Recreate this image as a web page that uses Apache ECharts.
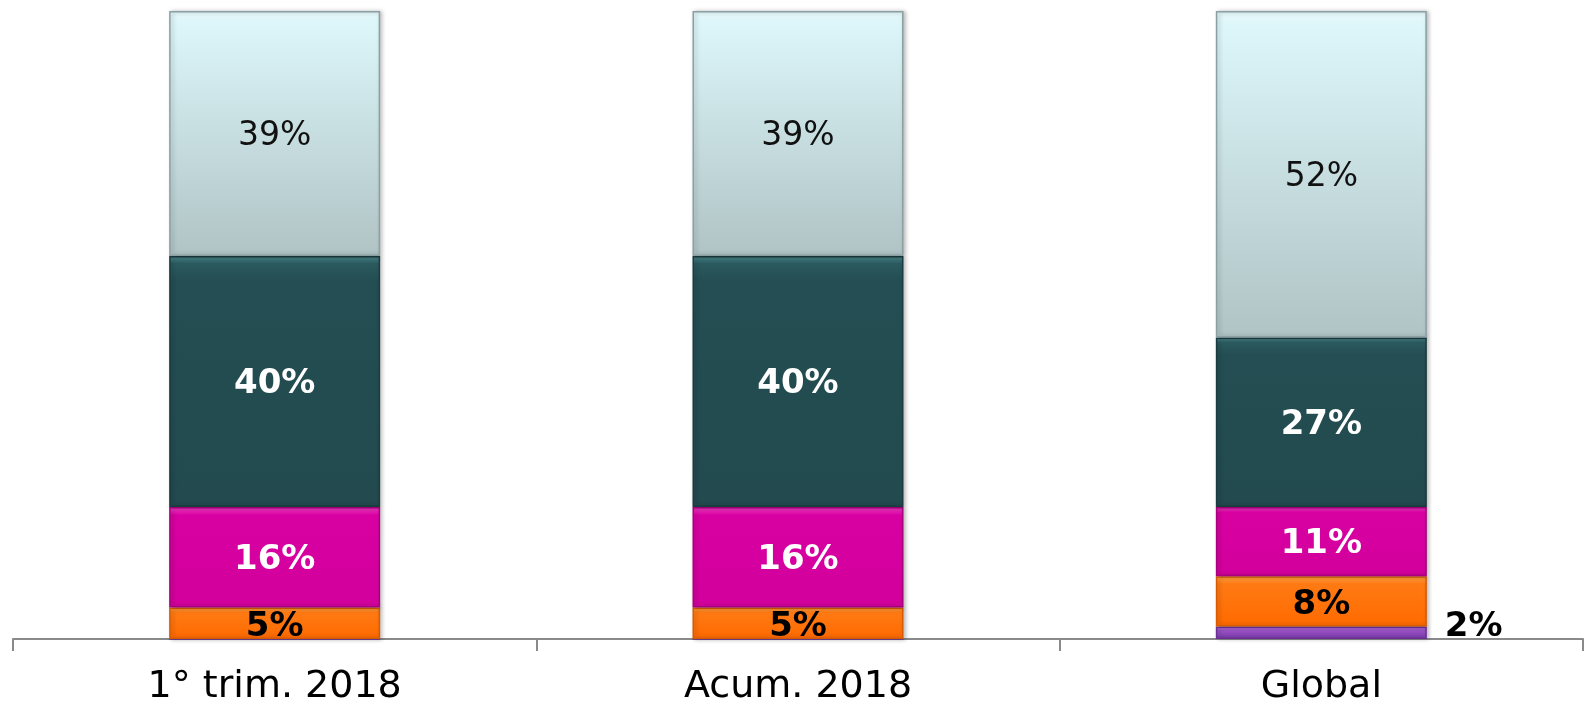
<!DOCTYPE html>
<html>
<head>
<meta charset="utf-8">
<script src="https://cdn.jsdelivr.net/npm/echarts@6/dist/echarts.min.js"></script>
<style>
html,body{margin:0;padding:0;background:#fff;}
#chart{width:1591px;height:706px;}
</style>
</head>
<body>
<div id="chart"></div>
<script>
// Categories and stacked shares (percent), bottom segment first
const categories = ['1° trim. 2018', 'Acum. 2018', 'Global'];
const purpleShare = [0, 0, 2];
const orangeShare = [5, 5, 8];
const magentaShare = [16, 16, 11];
const tealShare = [40, 40, 27];
const paleShare = [39, 39, 52];

function grad(stops) {
  return new echarts.graphic.LinearGradient(0, 0, 0, 1,
    stops.map(s => ({ offset: s[0], color: s[1] })));
}

const FONT = 'DejaVu Sans';

function makeSeries(name, data, fill, border, label) {
  return {
    name: name,
    type: 'bar',
    stack: 'total',
    barWidth: 211,
    data: data,
    itemStyle: {
      color: fill,
      borderColor: border,
      borderWidth: 1.5,
      shadowColor: 'rgba(0,0,0,0.25)',
      shadowBlur: 4,
      shadowOffsetX: 2,
      shadowOffsetY: 0
    },
    label: Object.assign({
      show: true,
      position: 'inside',
      fontFamily: FONT,
      fontSize: 34,
      offset: [0, 3],
      formatter: p => p.value > 0 ? p.value + '%' : ''
    }, label)
  };
}

const chart = echarts.init(document.getElementById('chart'));
chart.setOption({
  animation: false,
  grid: { left: 13, right: 8, top: 11, bottom: 67, outerBoundsMode: 'none', containLabel: false },
  xAxis: {
    type: 'category',
    data: categories,
    axisLine: { lineStyle: { color: '#8a8a8a', width: 2 } },
    axisTick: { show: true, length: 12, lineStyle: { color: '#8a8a8a', width: 2 } },
    axisLabel: { fontFamily: FONT, fontSize: 38, color: '#000', margin: 29 }
  },
  yAxis: { type: 'value', min: 0, max: 100, show: false },
  series: [
    makeSeries('Otros', purpleShare,
      grad([[0, '#c27ae6'], [0.3, '#9a52c8'], [1, '#7a3aa8']]), '#6b3096',
      { position: 'right', distance: 18, offset: [0, -6], color: '#000', fontWeight: 'bold' }),
    makeSeries('Naranja', orangeShare,
      grad([[0, '#ffa646'], [0.15, '#ff7a14'], [1, '#ff6a00']]), '#d85a00',
      { color: '#000', fontWeight: 'bold', offset: [0, 4] }),
    makeSeries('Magenta', magentaShare,
      grad([[0, '#f040c4'], [0.08, '#d800a2'], [1, '#d2009c']]), '#a8007c',
      { color: '#fff', fontWeight: 'bold' }),
    makeSeries('Verde', tealShare,
      grad([[0, '#4e8a8f'], [0.03, '#2a5a5f'], [0.1, '#244e53'], [1, '#224a4f']]), '#1a3b3f',
      { color: '#fff', fontWeight: 'bold' }),
    makeSeries('Claro', paleShare,
      grad([[0, '#e6f8fa'], [0.05, '#dcf6f9'], [1, '#b0c3c5']]), '#8aa0a3',
      { color: '#111', fontWeight: 'normal', fontSize: 33 })
  ]
});
</script>
</body>
</html>
